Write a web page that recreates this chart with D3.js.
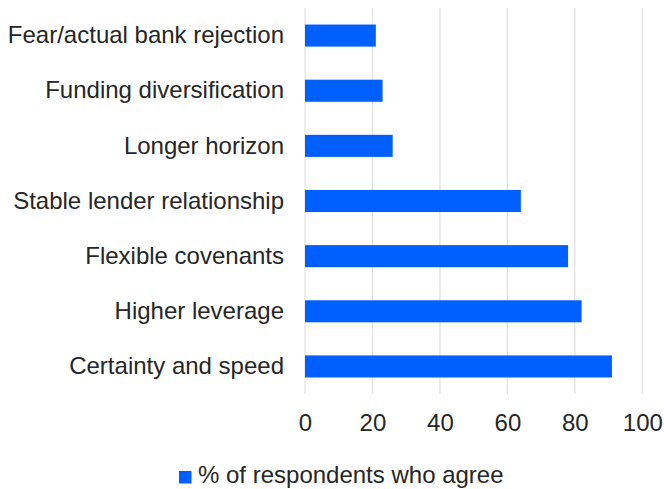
<!DOCTYPE html>
<html>
<head>
<meta charset="utf-8">
<script src="https://cdn.jsdelivr.net/npm/d3@7"></script>
<style>
  html, body { margin: 0; padding: 0; background: #fff; }
  svg { display: block; font-family: "Liberation Sans", Arial, sans-serif; }
</style>
</head>
<body>
<svg id="chart" width="664" height="489"></svg>
<script>
// Reasons for choosing private credit, share of respondents agreeing
const categories = [
  "Fear/actual bank rejection",
  "Funding diversification",
  "Longer horizon",
  "Stable lender relationship",
  "Flexible covenants",
  "Higher leverage",
  "Certainty and speed"
];
const values = [21, 23, 26, 64, 78, 82, 91];
const xTicks = [0, 20, 40, 60, 80, 100];
const seriesName = "% of respondents who agree";

const svg = d3.select("#chart");
const margin = { top: 8, left: 305, right: 22, bottom: 95 };
const width = 664, height = 489;
const barColor = "#0060ff";
const textColor = "#262626";
const fontSize = 24;

const x = d3.scaleLinear().domain([0, 100]).range([margin.left, 642.3]);
const y = d3.scaleBand().domain(categories)
  .range([margin.top, height - margin.bottom]).paddingInner(0.6).paddingOuter(0.3);

// vertical gridlines
svg.append("g").selectAll("line").data(xTicks).join("line")
  .attr("x1", d => x(d)).attr("x2", d => x(d))
  .attr("y1", margin.top).attr("y2", height - margin.bottom)
  .attr("stroke", "#e3e3e3").attr("stroke-width", 1.3);

// bars
svg.append("g").selectAll("rect").data(values).join("rect")
  .attr("x", x(0))
  .attr("y", (d, i) => y(categories[i]))
  .attr("width", d => x(d) - x(0))
  .attr("height", y.bandwidth())
  .attr("fill", barColor);

// category axis
const yAxis = d3.axisLeft(y).tickSize(0).tickPadding(21);
const gy = svg.append("g").attr("transform", `translate(${margin.left},0)`).call(yAxis);
gy.select(".domain").remove();
gy.selectAll("text").attr("font-size", fontSize).attr("fill", textColor)
  .attr("font-family", "Liberation Sans, Arial, sans-serif");

// value axis
const xAxis = d3.axisBottom(x).tickValues(xTicks).tickSize(0).tickPadding(20);
const gx = svg.append("g").attr("transform", `translate(0,${height - margin.bottom})`).call(xAxis);
gx.select(".domain").remove();
gx.selectAll("text").attr("font-size", fontSize).attr("fill", textColor)
  .attr("font-family", "Liberation Sans, Arial, sans-serif");

// legend
const legend = svg.append("g").attr("transform", "translate(179,471)");
legend.append("rect").attr("width", 12.5).attr("height", 12.5).attr("fill", barColor);
legend.append("text").attr("x", 19).attr("y", 12.3)
  .attr("font-size", fontSize).attr("fill", textColor).text(seriesName);
</script>
</body>
</html>
